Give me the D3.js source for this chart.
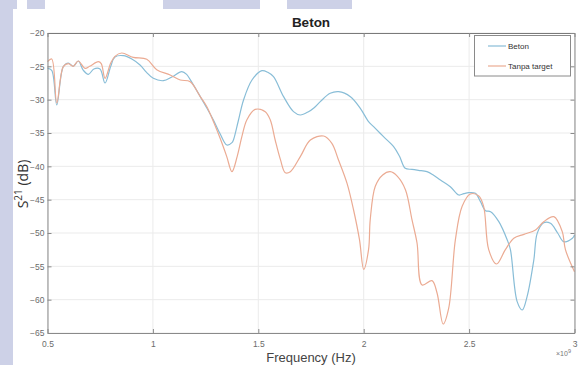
<!DOCTYPE html>
<html>
<head>
<meta charset="utf-8">
<script src="https://cdn.jsdelivr.net/npm/d3@7"></script>
<style>
  html, body { margin: 0; padding: 0; background: #ffffff; }
  svg { display: block; }
</style>
</head>
<body>
<svg id="chart" width="582" height="365"></svg>
<script>
// ---- data (frequency in GHz, S21 in dB) ----
const betonFreq = [0.5,0.52,0.544,0.575,0.599,0.622,0.646,0.67,0.694,0.72,0.749,0.773,0.80,0.82,0.86,0.90,0.939,0.97,1.002,1.05,1.09,1.137,1.16,1.177,1.224,1.255,1.287,1.32,1.351,1.375,1.382,1.405,1.43,1.47,1.517,1.545,1.572,1.62,1.667,1.699,1.738,1.765,1.794,1.841,1.881,1.937,1.984,2.023,2.047,2.094,2.142,2.17,2.197,2.229,2.26,2.3,2.33,2.364,2.411,2.451,2.475,2.498,2.53,2.554,2.578,2.602,2.641,2.681,2.696,2.728,2.752,2.775,2.807,2.823,2.854,2.886,2.92,2.949,2.99,3.0];
const betonVal  = [-25.3,-25.6,-30.8,-25.05,-24.5,-25,-24.2,-25.6,-26.2,-25.4,-25.4,-27.5,-25.0,-23.6,-23.4,-23.9,-24.8,-25.9,-26.8,-27.15,-26.6,-25.8,-26.2,-27,-29.5,-31.2,-33.05,-35.2,-36.8,-36.45,-36.05,-33.2,-30.05,-27.05,-25.65,-25.9,-26.55,-29.55,-31.8,-32.3,-31.8,-31.2,-30.3,-29.05,-28.8,-29.55,-31.3,-33.3,-34.05,-35.55,-37.05,-38.5,-40.3,-40.45,-40.6,-40.8,-41.3,-42.05,-43.05,-44.3,-44.1,-43.95,-44.05,-45.3,-46.65,-46.8,-48.3,-51.05,-52.5,-60.3,-61.55,-59.55,-54.05,-50.05,-48.45,-48.55,-50,-51.3,-50.8,-50.3];

const tanpaFreq = [0.5,0.52,0.544,0.575,0.599,0.622,0.646,0.678,0.70,0.741,0.755,0.773,0.80,0.82,0.852,0.907,0.971,1.018,1.082,1.13,1.177,1.224,1.256,1.29,1.319,1.35,1.375,1.40,1.422,1.446,1.485,1.533,1.557,1.58,1.605,1.628,1.652,1.70,1.747,1.81,1.849,1.88,1.921,1.952,1.98,2.0,2.023,2.031,2.055,2.09,2.126,2.16,2.198,2.229,2.253,2.277,2.324,2.348,2.377,2.403,2.435,2.467,2.506,2.546,2.569,2.593,2.63,2.672,2.712,2.76,2.815,2.854,2.902,2.942,2.957,3.0];
const tanpaVal  = [-24.3,-23.9,-30.5,-25.05,-24.6,-25,-24.2,-25.3,-25.0,-24.3,-24.6,-26.8,-24.5,-23.5,-23.0,-23.65,-23.95,-25.5,-26.3,-27.05,-27.3,-29.5,-31.05,-33.5,-35.8,-38.5,-40.8,-38.5,-35.55,-33,-31.45,-31.8,-33.05,-36.05,-39,-40.95,-40.8,-38.5,-36.05,-35.45,-36.55,-39,-42.55,-46.55,-51,-55.45,-52.5,-48,-43,-41.3,-40.8,-41.5,-43.5,-48,-51.5,-57.8,-57.15,-59,-63.65,-61.3,-51,-46,-44.15,-44.45,-46,-52.5,-54.65,-52.5,-50.8,-50.2,-49.55,-48.3,-47.55,-49.8,-52.5,-55.8];

const xTicks = [0.5, 1, 1.5, 2, 2.5, 3];
const xTickLabels = ["0.5", "1", "1.5", "2", "2.5", "3"];
const yTicks = [-20, -25, -30, -35, -40, -45, -50, -55, -60, -65];
const seriesNames = ["Beton", "Tanpa target"];

// ---- layout ----
const svg = d3.select("#chart");
const W = 582, H = 365;
const L = 47.5, R = 574.5, T = 33, B = 333;
const blue = "#88bdd7", orange = "#ebab93";

// scanned-page background artifacts
const bg = "#cdd1e7";
svg.append("rect").attr("x", 0).attr("y", 0).attr("width", W).attr("height", H).attr("fill", "#fff");
svg.append("rect").attr("x", 0).attr("y", 0).attr("width", 13).attr("height", H).attr("fill", bg);
[[0, 17], [27, 45], [163, 260], [287, 352]].forEach(([a, b]) => {
  svg.append("rect").attr("x", a).attr("y", 0).attr("width", b - a).attr("height", 9).attr("fill", bg);
});

const x = d3.scaleLinear().domain([0.5, 3]).range([L, R]);
const y = d3.scaleLinear().domain([-65, -20]).range([B, T]);

// grid
const grid = svg.append("g");
xTicks.forEach(t => grid.append("line").attr("x1", x(t)).attr("x2", x(t)).attr("y1", T).attr("y2", B)
  .attr("stroke", "#ebebeb").attr("stroke-width", 1));
yTicks.forEach(t => grid.append("line").attr("x1", L).attr("x2", R).attr("y1", y(t)).attr("y2", y(t))
  .attr("stroke", "#ebebeb").attr("stroke-width", 1));

// lines
const line = (fx, fy) => d3.line()
  .x((d, i) => x(fx[i])).y((d, i) => y(fy[i]))
  .curve(d3.curveCatmullRom.alpha(0.5));
svg.append("path").datum(betonFreq).attr("d", line(betonFreq, betonVal)(betonFreq))
  .attr("fill", "none").attr("stroke", blue).attr("stroke-width", 1.2);
svg.append("path").datum(tanpaFreq).attr("d", line(tanpaFreq, tanpaVal)(tanpaFreq))
  .attr("fill", "none").attr("stroke", orange).attr("stroke-width", 1.2);

// axes (MATLAB style, inward ticks)
const axisColor = "#8a8a8a";
const tickFont = "Liberation Sans, Arial, sans-serif";
const xAxis = svg.append("g").attr("transform", `translate(0,${B})`)
  .call(d3.axisBottom(x).tickValues(xTicks).tickFormat((d, i) => xTickLabels[i]).tickSizeInner(-4).tickSizeOuter(0).tickPadding(8));
const yAxis = svg.append("g").attr("transform", `translate(${L},0)`)
  .call(d3.axisLeft(y).tickValues(yTicks).tickFormat(d3.format("d")).tickSizeInner(-4).tickSizeOuter(0).tickPadding(3));
const xTop = svg.append("g").attr("transform", `translate(0,${T})`)
  .call(d3.axisTop(x).tickValues(xTicks).tickFormat("").tickSizeInner(-4).tickSizeOuter(0));
const yRight = svg.append("g").attr("transform", `translate(${R},0)`)
  .call(d3.axisRight(y).tickValues(yTicks).tickFormat("").tickSizeInner(-4).tickSizeOuter(0));
[xAxis, yAxis, xTop, yRight].forEach(g => {
  g.selectAll("path.domain").attr("stroke", axisColor);
  g.selectAll(".tick line").attr("stroke", axisColor);
  g.selectAll(".tick text").attr("fill", "#6b6b6b").attr("font-size", 8.5).attr("font-family", tickFont);
});
xTop.select("path.domain").attr("stroke", "#7a7a7a");

// title
svg.append("text").attr("x", 311).attr("y", 27).attr("text-anchor", "middle")
  .attr("font-family", tickFont).attr("font-weight", "bold").attr("font-size", 13.5).attr("fill", "#222")
  .text("Beton");

// x label
svg.append("text").attr("x", 311).attr("y", 362).attr("text-anchor", "middle")
  .attr("font-family", tickFont).attr("font-size", 13).attr("fill", "#444")
  .text("Frequency (Hz)");

// exponent
const ex = svg.append("text").attr("x", 556).attr("y", 356)
  .attr("font-family", tickFont).attr("font-size", 7).attr("fill", "#777");
ex.append("tspan").text("×10");
ex.append("tspan").attr("dy", -3).attr("font-size", 5.5).text("9");

// y label
const yl = svg.append("text").attr("transform", "translate(28,184) rotate(-90)")
  .attr("text-anchor", "middle").attr("font-family", "Open Sans, Noto Sans, sans-serif")
  .attr("font-size", 14).attr("fill", "#333");
yl.append("tspan").text("S");
yl.append("tspan").attr("dy", -6).attr("font-size", 10).text("21");
yl.append("tspan").attr("dy", 6).text(" (dB)");

// legend
const lg = svg.append("g");
lg.append("rect").attr("x", 474.5).attr("y", 35.5).attr("width", 96).attr("height", 40.5)
  .attr("fill", "#fff").attr("stroke", "#8a8a8a").attr("stroke-width", 1);
[blue, orange].forEach((c, i) => {
  const yy = 46 + i * 20;
  lg.append("line").attr("x1", 488).attr("x2", 506).attr("y1", yy).attr("y2", yy)
    .attr("stroke", c).attr("stroke-width", 1.2);
  lg.append("text").attr("x", 508).attr("y", yy + 3).attr("font-family", tickFont)
    .attr("font-size", 8).attr("fill", "#333").text(seriesNames[i]);
});
</script>
</body>
</html>
